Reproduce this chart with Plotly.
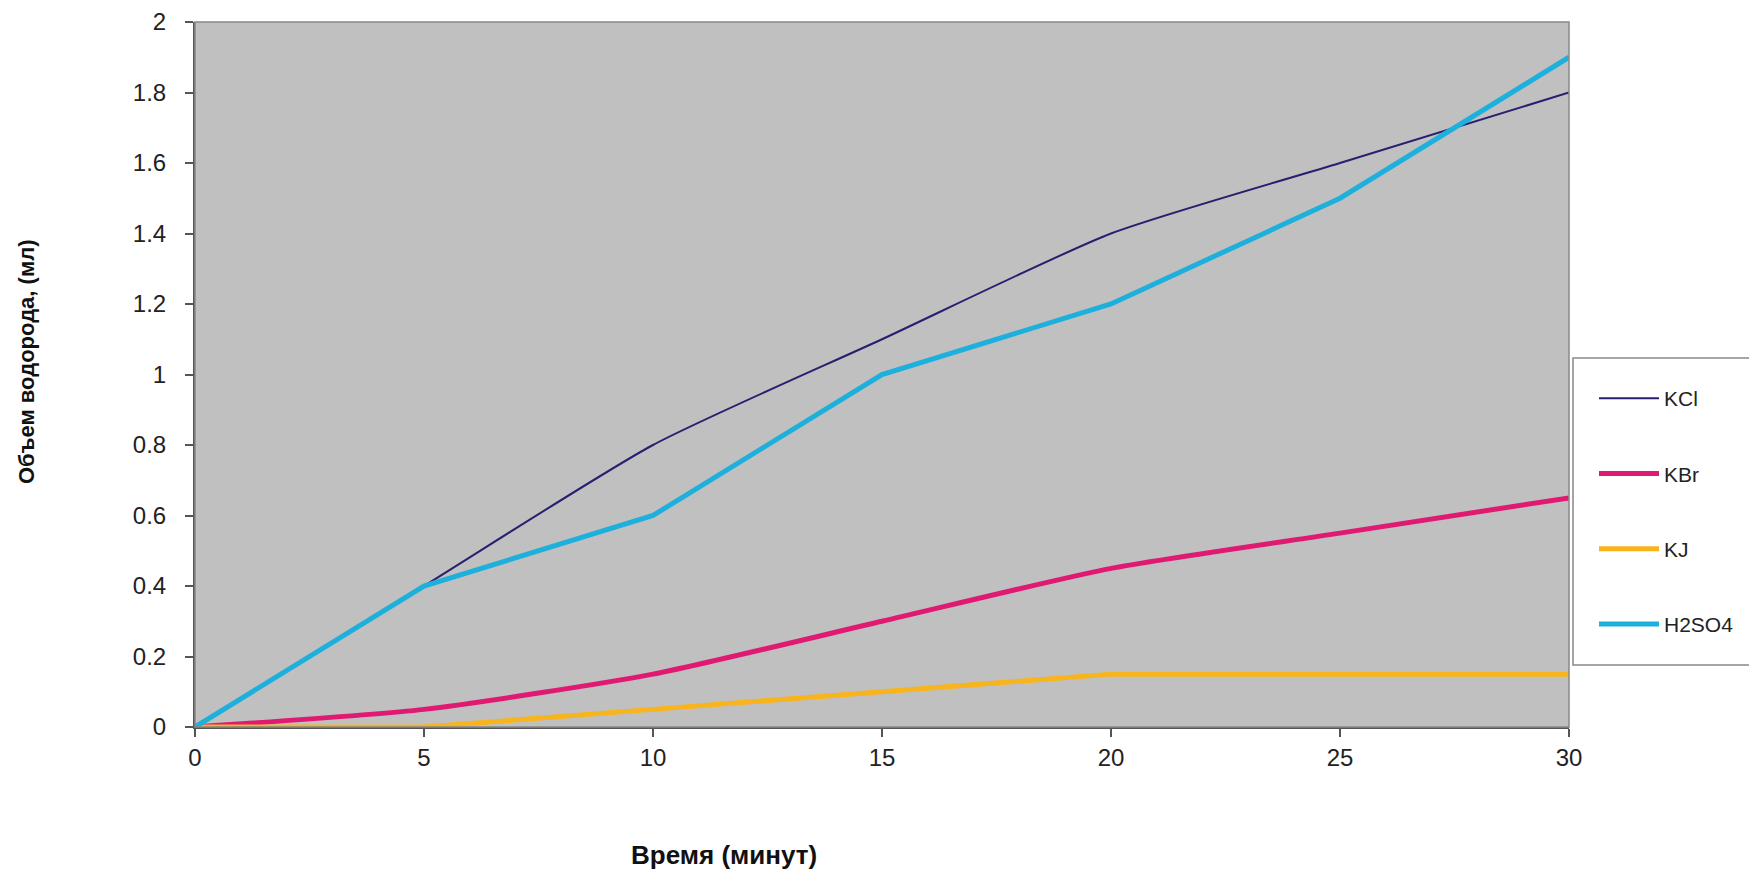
import plotly.graph_objects as go

time_min = [0, 5, 10, 15, 20, 25, 30]
kcl = [0, 0.4, 0.8, 1.1, 1.4, 1.6, 1.8]
kbr = [0, 0.05, 0.15, 0.3, 0.45, 0.55, 0.65]
kj = [0, 0, 0.05, 0.1, 0.15, 0.15, 0.15]
h2so4 = [0, 0.4, 0.6, 1.0, 1.2, 1.5, 1.9]

series = [
    ("KCl", kcl, "#262070", 2, "spline"),
    ("KBr", kbr, "#e01a72", 5, "spline"),
    ("KJ", kj, "#f7b41c", 5, "linear"),
    ("H2SO4", h2so4, "#1eb0dc", 5, "linear"),
]

W, H = 1757, 869
OFF = 8  # page body margin
# target screen coordinates of the plot area
PX0, PX1, PY0, PY1 = 195, 1569, 22, 727
L, T = PX0 - OFF, PY0 - OFF
R = W - (PX1 - OFF)
B = H - (PY1 - OFF)
PW, PH = W - L - R, H - T - B


def px(x):
    return (x - OFF - L) / PW


def py(y):
    return 1 - (y - OFF - T) / PH


fig = go.Figure()
for i, (name, ys, color, width, shape) in enumerate(series):
    fig.add_trace(go.Scatter(
        x=time_min, y=ys, name=name, mode="lines",
        line=dict(color=color, width=width, shape=shape, smoothing=0.6),
        legendgroup=f"g{i}",
    ))

font = "Liberation Sans, Arial, sans-serif"
fig.update_layout(
    width=W, height=H,
    margin=dict(l=L, r=R, t=T, b=B, autoexpand=False),
    paper_bgcolor="white",
    plot_bgcolor="#c0c0c0",
    font=dict(family=font, size=24, color="#222"),
    xaxis=dict(range=[0, 30], tickvals=[0, 5, 10, 15, 20, 25, 30],
               showgrid=False, zeroline=False, showline=True,
               linecolor="#555", linewidth=2, ticks="outside", ticklen=8,
               tickcolor="#555", tickwidth=2,
               tickfont=dict(size=24, family=font, color="#222")),
    yaxis=dict(range=[0, 2], tickvals=[0, 0.2, 0.4, 0.6, 0.8, 1, 1.2, 1.4, 1.6, 1.8, 2],
               ticktext=["0", "0.2", "0.4", "0.6", "0.8", "1", "1.2", "1.4", "1.6", "1.8", "2"],
               showgrid=False, zeroline=False, showline=True,
               linecolor="#555", linewidth=2, ticks="outside", ticklen=8,
               tickcolor="#555", tickwidth=2, ticklabelstandoff=14,
               tickfont=dict(size=24, family=font, color="#222")),
    legend=dict(x=px(1594), y=py(378),
                xanchor="left", yanchor="top",
                bgcolor="rgba(0,0,0,0)", borderwidth=0,
                font=dict(size=21, family=font, color="#222"),
                traceorder="grouped", tracegroupgap=45, itemwidth=60,
                entrywidth=150),
    showlegend=True,
    shapes=[
        dict(type="rect", xref="paper", yref="paper", x0=0, x1=1, y0=0, y1=1,
             line=dict(color="#888", width=1.5), layer="above"),
        dict(type="rect", xref="paper", yref="paper",
             x0=px(1573), x1=px(1770), y0=py(665), y1=py(358),
             fillcolor="white", line=dict(color="#888", width=1.5), layer="above"),
    ],
    annotations=[
        dict(text="<b>Время (минут)</b>", xref="paper", yref="paper",
             x=px(724), y=py(855),
             xanchor="center", yanchor="middle", showarrow=False,
             font=dict(size=26, family=font, color="#111")),
        dict(text="<b>Объем водорода, (мл)</b>", xref="paper", yref="paper",
             x=px(26), y=py(362), textangle=-90,
             xanchor="center", yanchor="middle", showarrow=False,
             font=dict(size=22, family=font, color="#111")),
    ],
)

fig.write_html("out.html")
